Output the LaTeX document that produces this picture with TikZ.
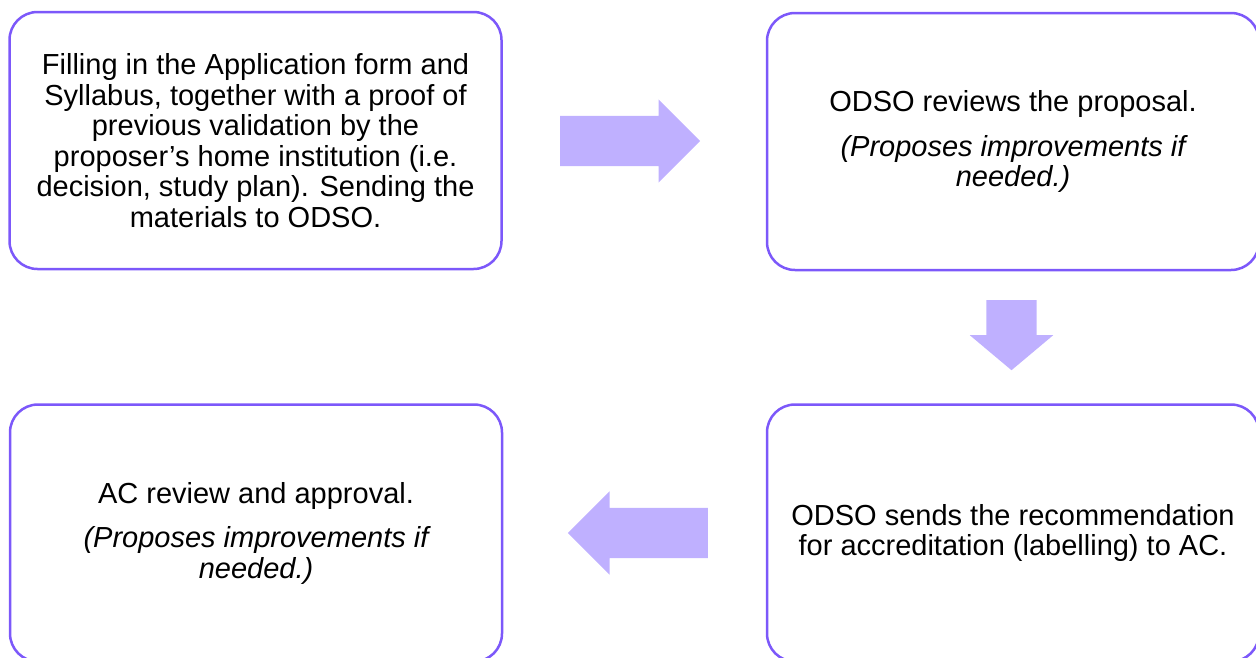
\documentclass[tikz,border=0pt]{standalone}
\usepackage{fontspec}
\setmainfont{Liberation Sans}
\usetikzlibrary{shapes.arrows}
\definecolor{boxline}{RGB}{124,88,250}
\definecolor{arrowfill}{RGB}{191,176,255}

\begin{document}
\begin{tikzpicture}[x=1pt, y=-1pt,
    stage/.style={rectangle, rounded corners=28pt, draw=boxline, line width=2.5pt,
        fill=white, minimum width=492pt, minimum height=257pt, outer sep=0pt,
        align=center, font=\fontsize{29}{30.5}\selectfont},
    flow/.style={single arrow, fill=arrowfill, draw=none, inner xsep=0pt,
        inner ysep=25pt, minimum height=140pt, single arrow head extend=16.5pt,
        anchor=tail}
]
    \useasboundingbox (0,0) rectangle (1256,657);
    \clip (0,0) rectangle (1256,657);
    \node[stage] (apply) at (255.5,140.5) {Filling in the Application form and\\
        Syllabus, together with a proof of\\ previous validation by the\\
        proposer's home institution (i.e.\\ decision, study plan). Sending the\\
        materials to ODSO.};
    \node[stage] (review) at (1013,141.5) {ODSO reviews the proposal.\\[14pt]
        \itshape (Proposes improvements if\\ \itshape needed.)};
    \node[stage] (recommend) at (1013,533) {ODSO sends the recommendation\\
        for accreditation (labelling) to AC.};
    \node[stage] (approve) at (256,533) {AC review and approval.\\[14pt]
        \itshape (Proposes improvements if\\ \itshape needed.)};
    \node[flow] (toreview) at (560,141) {};
    \node[flow, minimum height=70pt, single arrow tip angle=100,
        inner xsep=25pt, inner ysep=0pt,
        shape border rotate=270] (torecommend) at (1011.5,300) {};
    \node[flow, shape border rotate=180] (toapprove) at (708,533) {};
\end{tikzpicture}
\end{document}
